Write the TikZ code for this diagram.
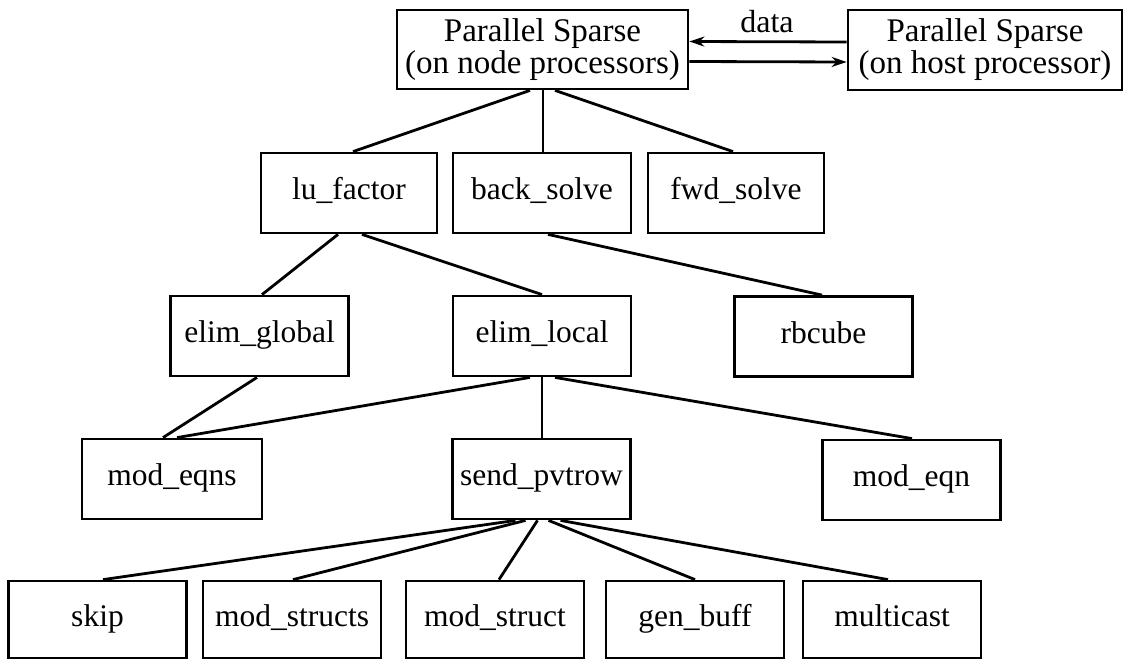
\documentclass[tikz,border=0pt]{standalone}
\usepackage{fontspec}
\setmainfont{Liberation Serif}
\usetikzlibrary{arrows.meta}
\begin{document}
\begin{tikzpicture}[x=1pt,y=-1pt,
  frame/.style={draw, line width=2.8pt, minimum width=178pt, minimum height=80pt, inner sep=0pt},
  box/.style={frame, font=\fontsize{31.5}{33}\selectfont, text height=21pt, text depth=8pt},
  topbox/.style={frame, font=\fontsize{33}{32}\selectfont, align=center},
  conn/.style={line width=2.8pt},
  arr/.style={line width=2.8pt, -{Stealth[length=15pt,width=10pt]}}]
\useasboundingbox (0,0) rectangle (1131,661);
% top
\node[topbox, minimum width=291pt, minimum height=79pt] (ps) at (542.5,49.5) {Parallel Sparse\\(on node processors)};
\node[topbox, minimum width=274pt] (host) at (985,50) {Parallel Sparse\\(on host processor)};
\node[font=\fontsize{32}{32}\selectfont, inner sep=0pt] (data) at (767,22) {data};
% row 2
\node[box, minimum width=176pt] (lu) at (349,193) {lu\_factor};
\node[box] (bs) at (542,193) {back\_solve};
\node[box, minimum width=176pt] (fs) at (736,193) {fwd\_solve};
% row 3
\node[box] (eg) at (259.5,336) {elim\_global};
\node[box] (el) at (542,336) {elim\_local};
\node[box] (rb) at (823.5,336.5) {rbcube};
% row 4
\node[box, minimum width=180pt] (me) at (172,479) {mod\_eqns};
\node[box] (sp) at (541.5,479) {send\_pvtrow};
\node[box] (mq) at (911.5,480) {mod\_eqn};
% row 5
\node[box, minimum height=77pt] (sk) at (97.5,619.5) {skip};
\node[box, minimum height=77pt] (mss) at (292,619.5) {mod\_structs};
\node[box, minimum height=77pt] (ms) at (495,619.5) {mod\_struct};
\node[box, minimum height=77pt] (gb) at (695,619.5) {gen\_buff};
\node[box, minimum height=77pt] (mc) at (892,619.5) {multicast};
% arrows
\draw[arr] ([yshift=8pt]host.west) -- ([yshift=8pt]ps.east);
\draw[arr] ([yshift=-12pt]ps.east) -- ([yshift=-12pt]host.west);
% connectors
\draw[conn] ([xshift=-12.5pt]ps.south) -- ([xshift=4pt]lu.north);
\draw[conn] ([xshift=0.5pt]ps.south) -- ([xshift=1pt]bs.north);
\draw[conn] ([xshift=12.5pt]ps.south) -- ([xshift=-3pt]fs.north);
\draw[conn] ([xshift=-11pt]lu.south) -- ([xshift=2.5pt]eg.north);
\draw[conn] ([xshift=13pt]lu.south) -- (el.north);
\draw[conn] ([xshift=6pt]bs.south) -- ([xshift=-1.5pt]rb.north);
\draw[conn] ([xshift=-2.5pt]eg.south) -- ([xshift=-9pt]me.north);
\draw[conn] ([xshift=-12pt]el.south) -- ([xshift=5pt]me.north);
\draw[conn] (el.south) -- ([xshift=0.5pt]sp.north);
\draw[conn] ([xshift=13pt]el.south) -- ([xshift=0.5pt]mq.north);
\draw[conn] ([xshift=-26pt]sp.south) -- ([xshift=5.5pt]sk.north);
\draw[conn] ([xshift=-16pt]sp.south) -- ([xshift=1pt]mss.north);
\draw[conn] ([xshift=-4pt]sp.south) -- ([xshift=4pt]ms.north);
\draw[conn] ([xshift=7pt]sp.south) -- (gb.north);
\draw[conn] ([xshift=19pt]sp.south) -- ([xshift=-4pt]mc.north);
\end{tikzpicture}
\end{document}
